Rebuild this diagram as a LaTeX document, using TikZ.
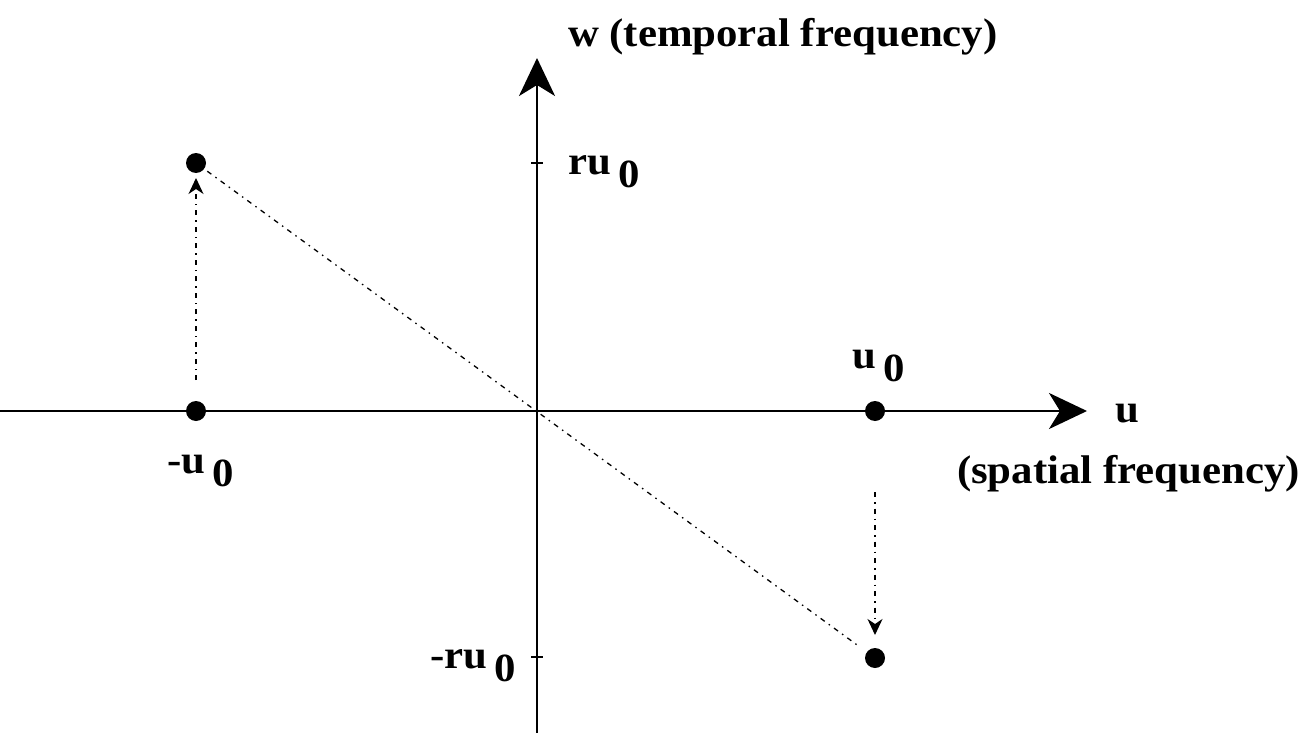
\documentclass[tikz,border=0pt]{standalone}
\usepackage{fontspec}
\setmainfont{Liberation Serif}
\usepackage{graphicx}
\usetikzlibrary{arrows.meta}
\newcommand{\zsub}{\hspace{7pt}\raisebox{-13pt}{0}}
\tikzset{
  axisline/.style={line width=2.6pt, -{Stealth[length=38pt,width=36pt,inset=11pt]}},
  dotnode/.style={circle, fill=black, inner sep=0pt, outer sep=0pt, minimum size=20pt},
  guide/.style={line width=1.3pt, dash pattern=on 5pt off 5pt on 1.5pt off 5pt},
  guidearrow/.style={guide, -{Stealth[length=16pt,width=15pt,inset=5pt]}},
  lbl/.style={anchor=base west, inner sep=0pt, outer sep=0pt,
    font=\fontsize{40}{48}\selectfont\bfseries},
  tickmark/.style={line width=2pt}
}
\begin{document}
\begin{tikzpicture}[x=1pt, y=-1pt]
\useasboundingbox (0,0) rectangle (1306,733);
% axes
\coordinate (xl) at (0,411);
\coordinate (xr) at (1087,411);
\coordinate (yb) at (537,733);
\coordinate (yt) at (537,58);
\draw[axisline] (xl) -- (xr);
\draw[axisline] (yb) -- (yt);
% ticks
\coordinate (t1) at (537,163);
\coordinate (t2) at (537,657);
\draw[tickmark] ([xshift=-6pt]t1) -- ([xshift=6pt]t1);
\draw[tickmark] ([xshift=-6pt]t2) -- ([xshift=6pt]t2);
% dots
\node[dotnode] (A) at (196,163) {};
\node[dotnode] (B) at (196,411) {};
\node[dotnode] (C) at (875,411) {};
\node[dotnode] (D) at (875,658) {};
% guides
\draw[guidearrow, shorten <=21pt, shorten >=5pt] (B) -- (A);
\draw[guidearrow, shorten <=71pt, shorten >=13pt] (C) -- (D);
\draw[guide, shorten <=4pt, shorten >=12pt] (A) -- (D);
% labels
\node[lbl] (wl) at (568,47) {\scalebox{1.07}[1]{w (temporal frequency)}};
\node[lbl] (rl) at (568,175) {\scalebox{1.07}[1]{ru\zsub}};
\node[lbl] (mrl) at (430,668) {\scalebox{1.07}[1]{-ru\zsub}};
\node[lbl] (mul) at (167,473) {\scalebox{1.07}[1]{-u\zsub}};
\node[lbl] (ul) at (852,368) {\scalebox{1.07}[1]{u\zsub}};
\node[lbl] (uax) at (1115,422) {\scalebox{1.07}[1]{u}};
\node[lbl] (sf) at (957,483) {\scalebox{1.07}[1]{(spatial frequency)}};
\end{tikzpicture}
\end{document}
